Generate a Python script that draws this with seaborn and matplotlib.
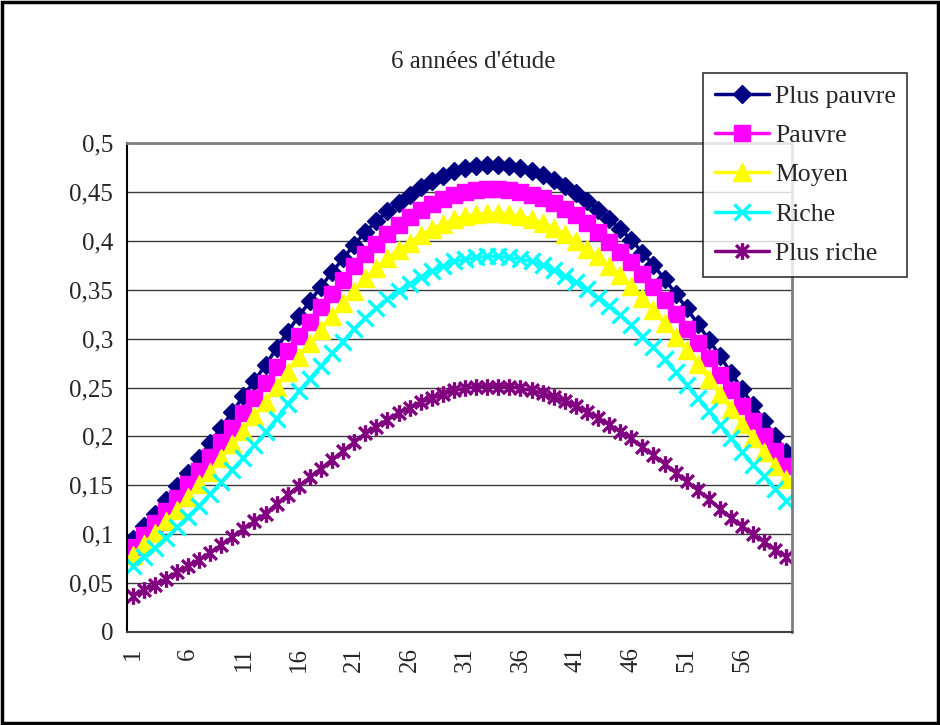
import matplotlib
matplotlib.use("Agg")
import matplotlib.pyplot as plt
import seaborn as sns
import numpy as np
import pandas as pd
from matplotlib.path import Path
from matplotlib.patches import Rectangle
from matplotlib.ticker import FixedLocator, FuncFormatter

sns.set_style("white")
plt.rcParams['font.family'] = ['Liberation Serif', 'DejaVu Serif']

title = "6 années d'étude"
categories = list(range(1, 61))
series_names = ["Plus pauvre", "Pauvre", "Moyen", "Riche", "Plus riche"]

plus_pauvre = [0.095, 0.108, 0.121, 0.135, 0.149, 0.163, 0.178, 0.193, 0.209, 0.225,
               0.241, 0.257, 0.273, 0.290, 0.307, 0.323, 0.338, 0.353, 0.368, 0.382,
               0.396, 0.409, 0.420, 0.430, 0.439, 0.447, 0.455, 0.461, 0.466, 0.471,
               0.474, 0.476, 0.477, 0.477, 0.476, 0.474, 0.471, 0.467, 0.462, 0.456,
               0.449, 0.441, 0.432, 0.422, 0.412, 0.401, 0.388, 0.375, 0.361, 0.346,
               0.331, 0.315, 0.299, 0.282, 0.265, 0.248, 0.232, 0.216, 0.200, 0.184]
pauvre = [0.087, 0.099, 0.111, 0.124, 0.137, 0.151, 0.165, 0.179, 0.194, 0.209,
          0.224, 0.239, 0.255, 0.271, 0.287, 0.303, 0.317, 0.332, 0.346, 0.360,
          0.374, 0.386, 0.397, 0.407, 0.416, 0.424, 0.432, 0.438, 0.443, 0.447,
          0.450, 0.452, 0.453, 0.453, 0.452, 0.450, 0.447, 0.444, 0.439, 0.433,
          0.426, 0.418, 0.409, 0.399, 0.389, 0.378, 0.366, 0.353, 0.339, 0.325,
          0.310, 0.295, 0.280, 0.263, 0.247, 0.231, 0.216, 0.200, 0.185, 0.170]
moyen = [0.079, 0.090, 0.101, 0.113, 0.125, 0.138, 0.151, 0.164, 0.178, 0.192,
         0.206, 0.221, 0.235, 0.251, 0.266, 0.281, 0.295, 0.309, 0.323, 0.336,
         0.349, 0.362, 0.372, 0.382, 0.391, 0.398, 0.406, 0.412, 0.417, 0.422,
         0.425, 0.427, 0.428, 0.428, 0.427, 0.425, 0.422, 0.418, 0.413, 0.407,
         0.400, 0.392, 0.384, 0.374, 0.365, 0.354, 0.342, 0.329, 0.316, 0.302,
         0.288, 0.274, 0.259, 0.243, 0.228, 0.213, 0.198, 0.184, 0.170, 0.156]
riche = [0.067, 0.077, 0.086, 0.096, 0.107, 0.118, 0.129, 0.141, 0.153, 0.166,
         0.178, 0.191, 0.204, 0.218, 0.233, 0.246, 0.259, 0.272, 0.285, 0.297,
         0.310, 0.321, 0.331, 0.340, 0.349, 0.356, 0.363, 0.369, 0.374, 0.379,
         0.381, 0.383, 0.384, 0.384, 0.383, 0.381, 0.379, 0.375, 0.370, 0.364,
         0.358, 0.351, 0.342, 0.333, 0.324, 0.314, 0.302, 0.291, 0.279, 0.266,
         0.253, 0.239, 0.226, 0.212, 0.198, 0.184, 0.171, 0.159, 0.146, 0.134]
plus_riche = [0.037, 0.043, 0.048, 0.054, 0.061, 0.067, 0.074, 0.081, 0.089, 0.097,
              0.105, 0.113, 0.121, 0.131, 0.140, 0.149, 0.158, 0.167, 0.176, 0.185,
              0.194, 0.203, 0.210, 0.217, 0.224, 0.229, 0.235, 0.239, 0.243, 0.247,
              0.249, 0.251, 0.251, 0.251, 0.251, 0.249, 0.247, 0.244, 0.240, 0.236,
              0.231, 0.225, 0.219, 0.212, 0.205, 0.198, 0.189, 0.181, 0.172, 0.163,
              0.154, 0.145, 0.136, 0.126, 0.117, 0.108, 0.100, 0.092, 0.084, 0.077]

y_ticks = [0, 0.05, 0.1, 0.15, 0.2, 0.25, 0.3, 0.35, 0.4, 0.45, 0.5]
x_label_ticks = [1, 6, 11, 16, 21, 26, 31, 36, 41, 46, 51, 56]

colors = ["#000080", "#FF00FF", "#FFFF00", "#00FFFF", "#800080"]

# asterisk marker: X + vertical bar
ast = Path([(-1, -1), (1, 1), (-1, 1), (1, -1), (0, -1.3), (0, 1.3)],
           [Path.MOVETO, Path.LINETO, Path.MOVETO, Path.LINETO, Path.MOVETO, Path.LINETO])
markers = ["D", "s", "^", "x", ast]
msizes = [9.5, 11, 12.5, 11, 12]
mews = [1, 1, 1, 2.4, 2.4]

all_values = [plus_pauvre, pauvre, moyen, riche, plus_riche]

fig = plt.figure(figsize=(9.4, 7.25), dpi=100)
ax = fig.add_axes([127 / 940, 1 - 632 / 725, 665 / 940, 489 / 725])

for name, vals, c, m, ms, mew in zip(series_names, all_values, colors, markers, msizes, mews):
    df = pd.DataFrame({"x": categories, "y": vals})
    sns.lineplot(data=df, x="x", y="y", ax=ax, color=c, marker=m, markersize=ms,
                 markeredgecolor=c, markerfacecolor=c, markeredgewidth=mew,
                 linewidth=2.5, label=name, legend=False)

ax.set_xlim(0.5, 60.5)
ax.set_ylim(0, 0.5)
ax.set_xlabel("")
ax.set_ylabel("")

ax.set_yticks(y_ticks)
ax.yaxis.set_major_formatter(FuncFormatter(lambda v, p: ("%g" % round(v, 2)).replace(".", ",")))
ax.yaxis.grid(True, color="#3a3a3a", linewidth=1.0)
ax.set_axisbelow(True)

ax.xaxis.set_major_locator(FixedLocator(x_label_ticks))
ax.set_xticklabels([str(t) for t in x_label_ticks], rotation=90)
ax.xaxis.set_minor_locator(FixedLocator(np.arange(0.5, 61, 1.0)))
ax.tick_params(axis="x", which="major", length=0, pad=11, labelsize=18)
ax.tick_params(axis="x", which="minor", length=6, width=1, direction="out", color="black")
ax.tick_params(axis="y", which="major", length=6, width=1, direction="out", labelsize=18, pad=4, color="black")

for s in ["top", "right"]:
    ax.spines[s].set_color("#808080")
    ax.spines[s].set_linewidth(2)
ax.spines["left"].set_color("black")
ax.spines["left"].set_linewidth(1.5)
ax.spines["bottom"].set_color("#404040")
ax.spines["bottom"].set_linewidth(1.5)

fig.text(473 / 940, 1 - 62 / 725, title, ha="center", va="center", fontsize=18)

handles, labels = ax.get_legend_handles_labels()
leg = fig.legend(handles, labels, loc="upper left", bbox_to_anchor=(703 / 940, 1 - 73 / 725),
                 bbox_transform=fig.transFigure, frameon=True, fancybox=False, fontsize=18.5,
                 handlelength=2.1, handletextpad=0.25, labelspacing=0.64, borderpad=0.45,
                 borderaxespad=0)
leg.get_frame().set_edgecolor("black")
leg.get_frame().set_linewidth(1.2)

fig.patches.append(Rectangle((0.002, 0.003), 0.996, 0.994, transform=fig.transFigure,
                             fill=False, edgecolor="black", linewidth=2.5))

fig.savefig("out.png", dpi=100)
